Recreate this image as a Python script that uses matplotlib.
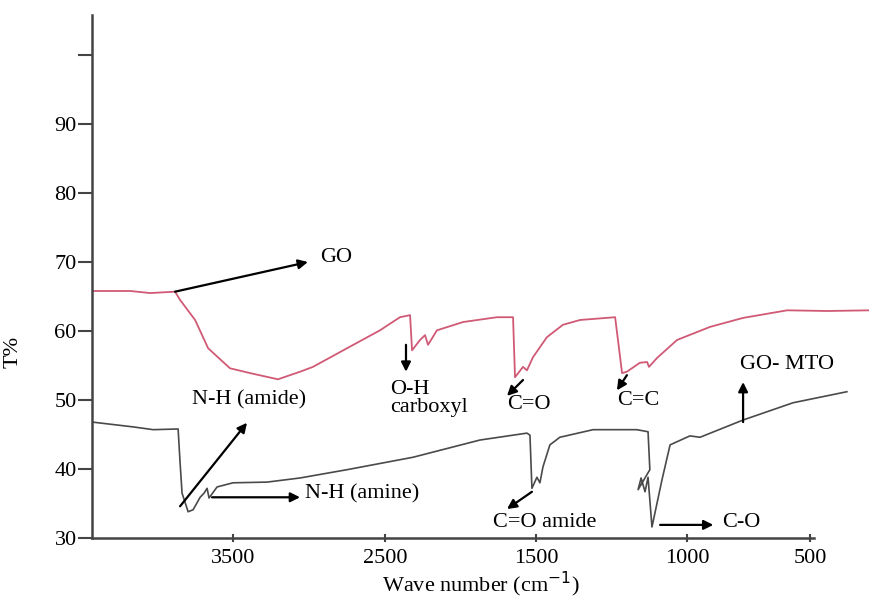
import numpy as np
import matplotlib
matplotlib.use("Agg")
import matplotlib.pyplot as plt

plt.rcParams['font.family'] = ['Liberation Serif', 'DejaVu Serif']

# GO spectrum (red) - wavenumber (cm-1), T%
go_wn = [4428, 4178, 4046, 3882, 3849, 3750, 3664, 3520, 3388, 3204, 3059, 2974,
         2750, 2533, 2401, 2334, 2321, 2268, 2235, 2215, 2156, 1983, 1758, 1652,
         1639, 1586, 1560, 1520, 1464, 1411, 1354, 1238, 1215, 1199, 1156, 1132,
         1126, 1099, 1033, 906, 772, 593, 431, 256]
go_t = [65.8, 65.8, 65.5, 65.7, 64.5, 61.6, 57.5, 54.6, 53.9, 53.0, 54.1, 54.8,
        57.5, 60.1, 62.0, 62.3, 57.2, 58.7, 59.4, 58.0, 60.1, 61.3, 62.0, 62.0,
        53.3, 54.8, 54.3, 56.2, 59.1, 60.9, 61.6, 62.0, 53.9, 54.1, 55.4, 55.5,
        54.8, 56.1, 58.7, 60.6, 61.9, 63.0, 62.9, 63.0]

# GO-MTO spectrum (dark)
mto_wn = [4428, 4158, 4026, 3862, 3849, 3836, 3796, 3763, 3717, 3691, 3671, 3658,
          3605, 3500, 3276, 3059, 2750, 2315, 1871, 1560, 1540, 1527, 1497, 1487,
          1477, 1454, 1421, 1311, 1166, 1129, 1123, 1162, 1152, 1139, 1129, 1116,
          1083, 1056, 988, 947, 772, 569, 350]
mto_t = [46.8, 46.1, 45.7, 45.8, 40.9, 36.5, 33.8, 34.1, 35.9, 36.5, 37.2, 35.8,
         37.4, 38.0, 38.1, 38.7, 39.9, 41.7, 44.2, 45.2, 44.9, 37.2, 38.8, 38.0,
         40.3, 43.5, 44.6, 45.7, 45.7, 45.4, 39.9, 37.0, 38.7, 36.7, 38.8, 31.6,
         38.4, 43.5, 44.8, 44.6, 47.1, 49.6, 51.2]

xticks = [3500, 2500, 1500, 1000, 500]
yticks = [30, 40, 50, 60, 70, 80, 90, 100]
ytick_labels = ['30', '40', '50', '60', '70', '80', '90', '']

# the printed axis is not linear: calibration knots (wavenumber -> relative position)
knot_wn = np.array([4430, 3500, 2500, 1500, 1000, 500, 256])
knot_pos = np.array([0, 141, 293, 444, 595, 718, 778])


def forward(w):
    # negative so the transform grows with wavenumber
    return -np.interp(w, knot_wn[::-1], knot_pos[::-1])


def inverse(q):
    return np.interp(-q, knot_pos, knot_wn)


# (text, text xy, arrow tail, arrow head)
notes = [
    ("GO", (2928, 70.7), (3882, 65.7), (3007, 70.0)),
    ("O-H\ncarboxyl", (2467, 50.2), (2361, 58.0), (2361, 54.1)),
    ("C=O", (1692, 49.3), (1586, 52.9), (1692, 50.6)),
    ("C=C", (1232, 50.0), (1199, 53.6), (1232, 51.4)),
    ("GO- MTO", (784, 55.1), (772, 46.8), (772, 52.6)),
    ("N-H (amide)", (3770, 50.0), (3849, 34.6), (3408, 46.7)),
    ("N-H (amine)", (3026, 36.4), (3638, 35.9), (3059, 35.9)),
    ("C=O amide", (1785, 32.3), (1527, 36.7), (1692, 34.2)),
    ("C-O", (858, 32.3), (1089, 31.9), (893, 31.9)),
]

fig = plt.figure(figsize=(8.7, 6.01), dpi=100)
ax = fig.add_axes([92/870, 1 - 538/601, 778/870, 523/601])
ax.set_xscale('function', functions=(forward, inverse))

ax.plot(go_wn, go_t, color='#d05a76', lw=1.3)
ax.plot(mto_wn, mto_t, color='#4a4a4a', lw=1.2)

for txt, txy, tail, head in notes:
    ax.annotate("", xy=head, xytext=tail,
                arrowprops=dict(arrowstyle='-|>', color='black', lw=1.6,
                                mutation_scale=14, shrinkA=0, shrinkB=0))
    ax.text(txy[0], txy[1], txt, fontsize=16, ha='left', va='center', linespacing=0.95)

ax.set_xlim(4430, 256)
ax.set_ylim(30, 105.8)
ax.set_xticks(xticks)
ax.set_xticklabels([str(v) for v in xticks])
ax.set_yticks(yticks)
ax.set_yticklabels(ytick_labels)
ax.minorticks_off()
ax.tick_params(axis='y', direction='out', length=10, width=1.5, color='#444444',
               labelsize=16, pad=1)
ax.tick_params(axis='x', direction='inout', length=6, width=1.5, color='#444444',
               labelsize=16, pad=5)

for side in ['top', 'right']:
    ax.spines[side].set_visible(False)
ax.spines['left'].set_linewidth(1.8)
ax.spines['left'].set_color('#444444')
ax.spines['bottom'].set_linewidth(1.8)
ax.spines['bottom'].set_color('#444444')
ax.spines['bottom'].set_bounds(4430, 484)

ax.set_xlabel('Wave number (cm$^{-1}$)', fontsize=16, labelpad=1)
ax.set_ylabel('T%', fontsize=16)
ax.yaxis.set_label_coords(-69/778, 186/523)

fig.savefig('out.png', dpi=100)
